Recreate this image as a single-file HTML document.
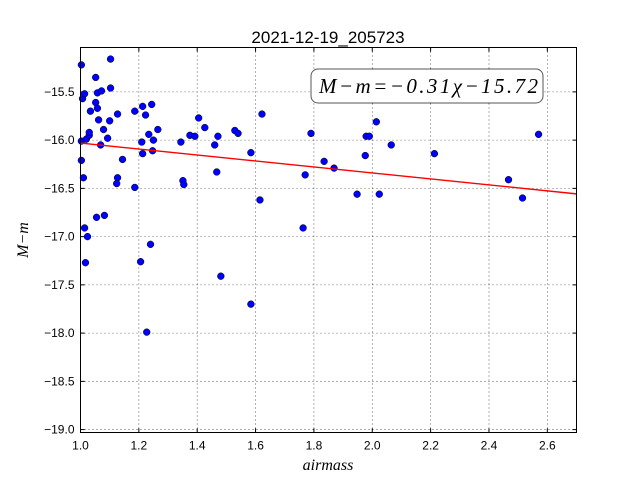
<!DOCTYPE html>
<html><head><meta charset="utf-8"><style>
body{margin:0;background:#fff}
svg{display:block;font-family:"Liberation Sans",sans-serif}
</style></head><body>
<svg id="c" width="640" height="480" viewBox="0 0 640 480">
<rect width="640" height="480" fill="#fff"/>
<text x="328" y="43" font-size="17" text-anchor="middle">2021-12-19_205723</text>
<g id="grid"></g>
<g id="ticks"></g>
<g id="marks"></g>
<rect x="80.5" y="47.5" width="496" height="385" fill="none" stroke="#000"/>
<g>
<rect x="311" y="69" width="232" height="34" rx="7" fill="#fff" stroke="#555" stroke-width="1"/>
<text x="319" y="93" font-size="21" textLength="219" lengthAdjust="spacing" font-family="Liberation Serif,serif" font-style="italic">M−m=−0.31χ−15.72</text>
</g>
<text x="328" y="470" font-size="16" text-anchor="middle" font-family="Liberation Serif,serif" font-style="italic">airmass</text>
<text transform="translate(28,240) rotate(-90)" font-size="16" text-anchor="middle" font-family="Liberation Serif,serif" font-style="italic">M−m</text>
</svg>
<script>
const airmass=[1.003,1.007,1.014,1.003,1.003,1.01,1.014,1.017,1.024,1.02,1.03,1.03,1.034,1.052,1.052,1.058,1.058,1.062,1.072,1.069,1.079,1.055,1.082,1.093,1.10,1.103,1.103,1.127,1.127,1.124,1.144,1.186,1.186,1.213,1.223,1.21,1.213,1.234,1.244,1.247,1.25,1.265,1.24,1.206,1.227,1.344,1.351,1.354,1.375,1.392,1.405,1.426,1.46,1.471,1.467,1.481,1.529,1.54,1.584,1.584,1.615,1.622,1.763,1.77,1.79,1.835,1.869,1.948,1.976,1.979,1.99,2.014,2.024,2.065,2.213,2.467,2.515,2.570];
const mag=[-15.22,-15.57,-15.52,-16.01,-16.21,-16.39,-16.91,-17.27,-17.00,-15.99,-15.95,-15.92,-15.70,-15.35,-15.61,-15.51,-15.67,-15.79,-15.49,-16.05,-15.89,-16.80,-16.78,-15.98,-15.80,-15.16,-15.46,-15.73,-16.39,-16.45,-16.20,-15.70,-16.49,-15.65,-15.74,-16.02,-16.14,-15.94,-15.63,-16.11,-16.0,-15.89,-17.08,-17.26,-17.99,-16.02,-16.42,-16.46,-15.95,-15.96,-15.77,-15.87,-16.05,-15.96,-16.33,-17.41,-15.90,-15.93,-16.13,-17.70,-16.62,-15.73,-16.91,-16.36,-15.93,-16.22,-16.29,-16.56,-16.16,-15.96,-15.96,-15.81,-16.56,-16.05,-16.14,-16.41,-16.60,-15.94];
const fitSlope=-0.31, fitIntercept=-15.72;
const xTicks=[1.0,1.2,1.4,1.6,1.8,2.0,2.2,2.4,2.6];
const yTicks=[-15.5,-16.0,-16.5,-17.0,-17.5,-18.0,-18.5,-19.0];
const X0=1.0,X1=2.7,Y0=-15.04,Y1=-19.03,L=80.5,R=576.5,T=47.5,B=432.5;
const sx=v=>L+(v-X0)/(X1-X0)*(R-L), sy=v=>T+(v-Y0)/(Y1-Y0)*(B-T);
const NS='http://www.w3.org/2000/svg';
function mk(tag,attrs,parent){const e=document.createElementNS(NS,tag);for(const k in attrs)e.setAttribute(k,attrs[k]);document.getElementById(parent).appendChild(e);return e;}
xTicks.forEach(t=>{const x=sx(t);
 const g=mk('line',{x1:x,x2:x,y1:T,y2:B,stroke:'#000','stroke-dasharray':'1,3','stroke-width':0.6},'grid');
 
 
 mk('line',{x1:x,x2:x,y1:B,y2:B-4,stroke:'#000'},'ticks');mk('line',{x1:x,x2:x,y1:T,y2:T+4,stroke:'#000'},'ticks');
 const lb=mk('text',{x:x,y:B+17,'font-size':12,'text-anchor':'middle'},'ticks');lb.textContent=t.toFixed(1);
 
 });
yTicks.forEach(t=>{const y=sy(t);
 const g=mk('line',{x1:L,x2:R,y1:y,y2:y,stroke:'#000','stroke-dasharray':'1,3','stroke-width':0.6},'grid');
 
 
 mk('line',{x1:L,x2:L+4,y1:y,y2:y,stroke:'#000'},'ticks');mk('line',{x1:R,x2:R-4,y1:y,y2:y,stroke:'#000'},'ticks');
 const lb=mk('text',{x:L-6,y:y+4,'font-size':12,'text-anchor':'end'},'ticks');lb.textContent=t.toFixed(1).replace('-','−');
 
 });
airmass.forEach((a,i)=>{const c=mk('circle',{cx:sx(a),cy:sy(mag[i]),r:3.4,fill:'#0000ff',stroke:'#000','stroke-width':0.5},'marks');
 
 });
const fl=mk('line',{x1:sx(X0),y1:sy(fitSlope*X0+fitIntercept),x2:sx(X1),y2:sy(fitSlope*X1+fitIntercept),stroke:'#ff0000','stroke-width':1.4},'marks');


</script>
</body></html>
